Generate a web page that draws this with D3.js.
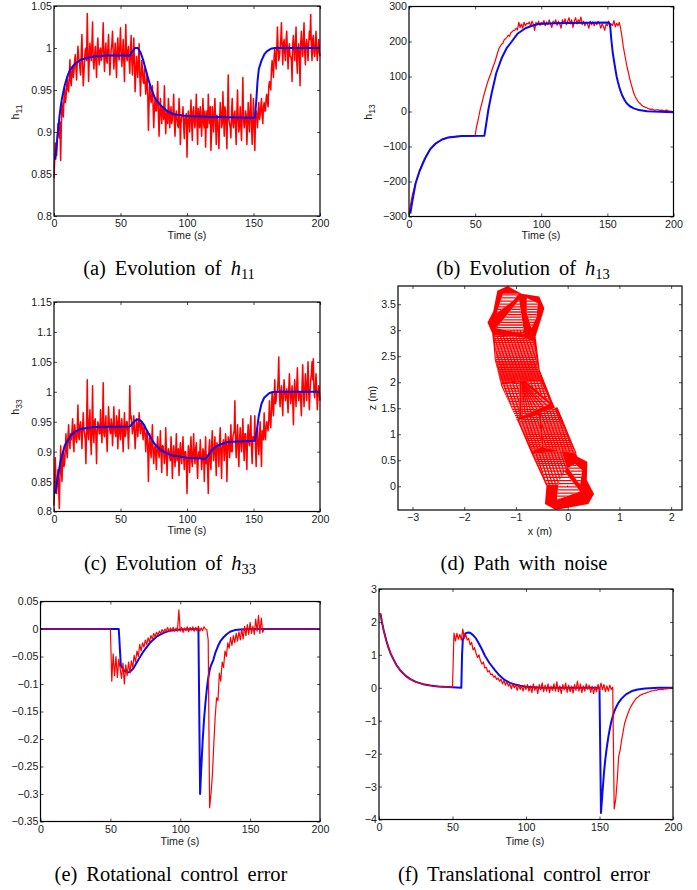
<!DOCTYPE html>
<html>
  <head>
    <title>Homography tracking plots</title>
    <script src="https://d3js.org/d3.v7.min.js"></script>
    <style>
      body { margin: 0; background: #fff; }
      svg { display: block; }
      .tick text, .axisLabel { font-family: "Liberation Sans", sans-serif; font-size: 10.7px; fill: #1a1a1a; }
      .caption { font-family: "Liberation Serif", serif; font-size: 20.5px; fill: #000; word-spacing: 3.8px; }
    </style>
  </head>

  <body>
    <svg width="697" height="890"></svg>

    <script type="text/javascript">
      // ---- plot (a) h11, red sampled every second plus the half seconds in between
      var h11Ticks = [0.8, 0.85, 0.9, 0.95, 1, 1.05];
      var h11Red = [
        0.845,0.887,0.872,0.91,0.893,0.866,0.935,0.918,0.952,0.94,
        0.963,0.948,0.986,0.955,0.978,0.972,0.992,0.962,1.002,0.984,
        0.968,1.016,0.955,0.986,1.0,1.041,0.96,1.006,0.985,1.031,
        0.975,1.002,0.965,1.012,0.98,1.0,0.988,1.03,0.972,1.006,
        0.982,1.016,0.968,0.998,1.02,0.975,1.006,0.965,1.012,0.986,
        1.024,0.978,1.01,0.96,1.028,0.985,1.002,0.97,1.015,0.968,
        1.012,0.948,0.99,0.965,1.005,0.943,0.985,0.96,0.975,0.945,
        0.97,0.902,0.955,0.935,0.955,0.905,0.94,0.925,0.96,0.895,
        0.94,0.91,0.93,0.955,0.898,0.925,0.94,0.905,0.93,0.915,
        0.945,0.895,0.925,0.908,0.94,0.885,0.918,0.93,0.892,0.91,
        0.87,0.925,0.9,0.938,0.89,0.93,0.905,0.945,0.885,0.92,
        0.93,0.895,0.94,0.905,0.882,0.925,0.945,0.91,0.878,0.93,
        0.9,0.94,0.885,0.915,0.88,0.935,0.905,0.948,0.895,0.925,
        0.88,0.968,0.91,0.893,0.94,0.905,0.925,0.885,0.95,0.9,
        0.93,0.89,0.965,0.905,0.925,0.885,0.935,0.9,0.945,0.885,
        0.94,0.878,0.925,0.905,0.935,0.92,0.94,0.91,0.935,0.925,
        0.945,0.93,0.96,0.95,0.985,0.965,1.0,0.975,1.025,0.985,
        1.0,1.03,0.98,1.01,0.985,1.02,0.975,1.005,0.99,0.96,
        1.015,0.985,1.025,0.97,1.005,0.955,1.02,0.99,1.03,0.98,
        1.01,0.985,1.02,1.04,0.985,1.015,0.99,1.02,0.985,1.01,
        0.99
      ];
      var h11RedMid = [
        0.866,0.878,0.895,0.9,0.912,0.905,0.925,0.94,0.935,0.955,
        0.95,0.968,0.96,0.975,0.965,0.985,0.975,0.985,0.99,0.975,
        0.995,0.98,0.97,0.998,0.985,1.0,0.985,0.995,1.005,0.985,
        0.99,0.985,1.0,0.99,0.998,0.985,1.005,0.99,0.995,0.985,
        1.0,0.99,0.985,1.005,0.995,0.99,0.985,1.0,0.99,1.003,
        0.995,0.99,0.985,1.0,0.99,0.997,0.985,0.995,0.985,0.99,
        0.98,0.97,0.978,0.985,0.97,0.965,0.975,0.958,0.96,0.955,
        0.945,0.935,0.945,0.94,0.93,0.93,0.925,0.942,0.92,0.925,
        0.92,0.93,0.915,0.925,0.92,0.91,0.928,0.92,0.91,0.925,
        0.91,0.92,0.915,0.905,0.925,0.91,0.92,0.905,0.918,0.922,
        0.905,0.915,0.92,0.91,0.925,0.912,0.92,0.91,0.928,0.905,
        0.915,0.92,0.91,0.925,0.915,0.905,0.92,0.93,0.9,0.915,
        0.925,0.91,0.92,0.9,0.915,0.925,0.91,0.92,0.93,0.905,
        0.925,0.915,0.905,0.925,0.91,0.92,0.905,0.925,0.915,0.91,
        0.905,0.925,0.915,0.91,0.92,0.905,0.918,0.925,0.91,0.915,
        0.905,0.915,0.92,0.925,0.915,0.93,0.92,0.93,0.925,0.94,
        0.935,0.955,0.955,0.975,0.975,0.99,0.985,1.0,1.0,0.99,
        1.01,1.0,1.005,0.995,1.01,0.995,1.0,0.99,0.985,1.005,
        1.0,1.005,0.985,1.0,0.99,1.005,1.0,1.01,0.995,1.005,
        1.0,1.005,1.01,1.0,1.01,0.995,1.005,0.995,1.0,0.995
      ];
      var h11BlueT = [1,2,3,4,5,6,8,10,12,15,20,25,30,40,57,59,61,63,65,67,70,73,76,80,85,90,100,120,151,152,153,154,156,158,160,163,166,200];
      var h11BlueV = [0.867,0.885,0.9,0.917,0.93,0.94,0.955,0.966,0.974,0.98,0.986,0.988,0.99,0.991,0.991,0.996,1.0,1.0,0.995,0.986,0.968,0.952,0.94,0.932,0.925,0.921,0.919,0.918,0.917,0.935,0.96,0.975,0.985,0.992,0.996,0.999,1,1];

      // ---- plot (b) h13
      var h13Ticks = [-300, -200, -100, 0, 100, 200, 300];
      var h13Red = [
        -295,-270,-248,-232,-218,-205,-193,-182,-170,-160,
        -150,-142,-135,-126,-120,-113,-108,-103,-99,-95,
        -92,-90,-86,-85,-82,-80,-78,-78,-75,-74,
        -74,-73,-72,-73,-71,-72,-70,-72,-70,-71,
        -70,-70,-71,-69,-71,-70,-69,-70,-70,-69,
        -68,-45,-28,-10,8,22,38,52,65,78,
        90,100,110,122,132,143,155,168,180,186,
        192,195,205,208,212,218,215,225,228,232,
        232,238,233,255,240,250,238,255,245,252,
        250,256,244,258,250,232,255,248,258,246,
        255,250,260,245,256,248,262,250,240,258,
        252,262,246,258,250,238,262,252,265,248,
        258,268,250,262,240,258,268,250,262,255,
        270,248,258,245,255,250,238,258,248,256,
        245,255,248,258,252,238,250,243,232,250,
        245,258,240,250,246,260,242,252,245,255,
        238,215,186,165,145,125,110,92,78,65,
        52,43,36,30,25,22,18,15,13,12,
        10,8,7,6,7,5,4,5,5,4,
        3,4,3,2,3,4,2,1,1,0,
        0
      ];
      var h13BlueT = [1,2,3,5,8,12,16,20,25,30,40,57,58,60,62.5,66,70,74,77.7,82,88,93,98,110,120,151,152,153,154,155,156,157,158,159,160,161,162,163,164,165,167,170,174,180,185,200];
      var h13BlueV = [-292,-268,-246,-205,-170,-135,-108,-92,-80,-74,-70,-69,-45,5,52,110,152,182,200,222,238,245,250,252,253,254,250,205,170,145,122,100,84,70,58,48,40,33,27,22,15,9,4,1,0,-2];

      // ---- plot (c) h33
      var h33Ticks = [0.8, 0.85, 0.9, 0.95, 1, 1.05, 1.1, 1.15];
      var h33Red = [
        0.81,0.89,0.83,0.87,0.805,0.91,0.85,0.9,0.88,0.93,
        0.89,0.945,0.905,0.92,0.955,0.9,0.935,0.915,0.978,0.92,
        0.95,0.905,0.965,0.93,0.88,1.02,0.92,0.97,0.895,1.01,
        0.915,0.955,0.88,0.95,0.93,0.97,0.915,1.015,0.925,0.96,
        0.9,0.975,0.935,0.955,0.91,0.975,0.93,0.96,0.905,0.97,
        0.92,0.955,0.9,0.965,0.93,0.95,0.905,1.01,0.96,0.93,
        0.96,0.905,0.955,0.925,0.965,0.93,0.95,0.92,0.945,0.9,
        0.935,0.85,0.93,0.89,0.945,0.88,0.91,0.87,0.925,0.89,
        0.935,0.865,0.91,0.88,0.94,0.86,0.905,0.89,0.925,0.855,
        0.91,0.875,0.93,0.89,0.86,0.915,0.88,0.925,0.87,0.9,
        0.83,0.91,0.865,0.925,0.875,0.93,0.88,0.915,0.855,0.9,
        0.92,0.87,0.905,0.85,0.925,0.895,0.83,0.92,0.87,0.935,
        0.885,0.925,0.86,0.91,0.875,0.94,0.855,0.915,0.885,0.93,
        0.85,0.925,0.89,0.945,0.9,0.93,0.985,0.89,0.945,0.875,
        0.94,0.9,0.955,0.885,0.93,0.87,0.945,0.91,0.96,0.88,
        0.925,0.96,0.875,0.94,0.895,0.95,0.875,0.93,0.965,0.92,
        0.95,0.935,0.985,0.94,1.0,0.96,1.02,0.985,1.0,1.058,
        0.975,1.01,0.96,1.02,0.985,1.005,0.965,1.03,0.98,1.01,
        0.945,1.02,0.975,1.04,0.985,1.0,0.96,1.045,0.975,1.03,
        0.985,1.05,0.97,1.02,1.05,1.055,0.99,1.03,0.97,1.01,
        0.985
      ];
      var h33RedMid = [
        0.85,0.845,0.855,0.84,0.86,0.87,0.885,0.875,0.905,0.9,
        0.925,0.915,0.93,0.935,0.915,0.945,0.92,0.94,0.925,0.945,
        0.93,0.94,0.935,0.92,0.945,0.93,0.95,0.925,0.94,0.93,
        0.95,0.925,0.935,0.945,0.93,0.94,0.95,0.93,0.945,0.925,
        0.94,0.95,0.93,0.945,0.935,0.94,0.925,0.95,0.94,0.93,
        0.945,0.93,0.94,0.925,0.95,0.935,0.94,0.955,0.945,0.94,
        0.935,0.93,0.945,0.94,0.95,0.945,0.935,0.94,0.925,0.93,
        0.905,0.91,0.905,0.92,0.9,0.905,0.895,0.91,0.9,0.905,
        0.895,0.91,0.9,0.89,0.905,0.895,0.9,0.885,0.9,0.89,
        0.895,0.9,0.885,0.905,0.89,0.895,0.905,0.89,0.9,0.885,
        0.88,0.895,0.905,0.885,0.9,0.89,0.905,0.88,0.895,0.89,
        0.895,0.885,0.9,0.89,0.88,0.87,0.905,0.885,0.91,0.9,
        0.905,0.89,0.915,0.9,0.92,0.895,0.905,0.92,0.9,0.915,
        0.9,0.92,0.91,0.9,0.925,0.935,0.915,0.925,0.905,0.92,
        0.915,0.925,0.91,0.93,0.9,0.925,0.915,0.94,0.905,0.925,
        0.92,0.905,0.93,0.91,0.925,0.91,0.935,0.92,0.93,0.94,
        0.94,0.955,0.95,0.97,0.975,0.99,0.98,1.0,1.02,0.995,
        1.0,0.985,1.0,1.0,0.995,0.985,1.005,1.0,0.995,0.985,
        1.0,0.995,1.01,1.0,1.0,0.985,1.01,1.005,1.0,1.01,
        1.015,1.0,1.0,1.03,1.02,1.0,1.01,1.0,0.99,1.0
      ];
      var h33BlueT = [1,3,5,8,12,15,20,30,57,59,61,63,65,67,70,73,76,80,85,90,100,114,116,118,121,125,130,151,152.5,154,156,158,162,166,200];
      var h33BlueV = [0.83,0.86,0.885,0.91,0.925,0.932,0.938,0.941,0.942,0.947,0.952,0.954,0.952,0.947,0.935,0.922,0.912,0.903,0.897,0.893,0.89,0.888,0.894,0.901,0.907,0.912,0.916,0.918,0.935,0.96,0.98,0.99,0.998,1,1];

      // ---- plot (d) path, all in metres
      var pathTicksX = [-3, -2, -1, 0, 1, 2];
      var pathTicksZ = [0, 0.5, 1, 1.5, 2, 2.5, 3, 3.5];
      var pathOutline = [[-1.16,3.85],[-1.36,3.76],[-1.44,3.36],[-1.55,3.15],[-1.46,2.94],[-1.43,2.69],[-1.41,2.43],[-1.28,1.92],[-0.95,1.21],[-0.7,0.63],[-0.41,0],[-0.44,-0.34],[-0.23,-0.455],[0.4,-0.34],[0.51,-0.15],[0.37,0.12],[0.38,0.47],[0.19,0.57],[-0.12,1.21],[-0.31,1.66],[-0.54,2.24],[-0.62,2.88],[-0.45,3.42],[-0.55,3.65],[-0.89,3.7]];
      // gaps in the wire mesh that only have rows running across
      var pathGapsRows = [
        [[-1.25,3.7],[-0.95,3.7],[-1.05,3.57],[-1.37,3.33]],
        [[-0.79,3.62],[-0.58,3.52],[-0.6,3.26],[-0.7,3.04],[-0.79,3.33]],
        [[-0.08,0.31],[0.24,-0.1],[-0.21,-0.26],[-0.18,0.03]],
        [[0.14,0.43],[0.28,0.31],[0.24,0.03],[0.01,0.35]]
      ];
      // gaps with rows and columns crossing
      var pathGapsGrid = [
        [[-0.94,3.58],[-0.84,2.93],[-1.38,3.04]],
        [[-1.41,2.9],[-0.85,2.86],[-0.66,2.78],[-0.58,2.3],[-0.56,2.22],[-1.35,2.22],[-1.39,2.43]],
        [[-1.34,2.19],[-0.56,2.19],[-0.52,2.05],[-0.93,2.04],[-1.3,2.0]],
        [[-0.8,2.02],[-0.52,2.02],[-0.34,1.62]],
        [[-1.27,1.95],[-0.93,2.0],[-0.94,1.3],[-0.98,1.27]],
        [[-0.94,1.27],[-0.56,1.37],[-0.5,0.76],[-0.68,0.68]],
        [[-0.52,1.42],[-0.2,1.52],[0.17,0.63],[-0.46,0.74]],
        [[-0.66,0.62],[-0.12,0.68],[-0.02,0.36],[-0.2,0.03],[-0.39,0.03]]
      ];
      // open triangle in the middle with lines fanning out of its apex
      var pathFanGap = [[-0.89,2.01],[-0.36,1.58],[-0.9,1.34]];
      var pathFanApex = [-0.89, 2.01];
      var pathFanEnds = [[-0.34,1.6],[-0.4,1.55],[-0.46,1.52],[-0.52,1.49],[-0.58,1.46],[-0.64,1.43],[-0.7,1.41],[-0.76,1.39],[-0.82,1.37],[-0.88,1.35]];
      var pathRowsZ = [
        -0.25,-0.19,-0.13,-0.07,-0.01,0.05,0.11,0.17,0.23,0.29,0.35,0.4,
        0.44,0.48,0.52,0.56,0.6,0.64,0.68,0.72,0.76,0.8,0.84,0.88,0.92,0.96,1.0,1.04,1.08,1.12,1.16,1.2,1.24,1.28,1.32,1.36,1.4,1.44,1.48,
        1.53,1.58,1.63,1.68,1.73,1.78,1.83,1.88,1.93,1.98,2.02,2.04,2.06,2.08,2.1,2.12,2.14,2.16,2.18,2.2,2.22,2.25,2.28,2.31,2.34,2.37,2.4,2.44,2.48,2.52,2.56,2.6,2.64,2.68,2.72,2.76,2.8,2.84,2.88,2.92,2.96,
        3.0,3.05,3.1,3.15,3.2,3.25,3.3,3.35,3.4,3.45,3.5,3.56,3.62,3.68
      ];
      // columns, given as x at z = 0 and the same line's x at z = 3
      var pathColsBottom = [-1.0,-0.94,-0.88,-0.82,-0.76,-0.7,-0.64,-0.58,-0.52,-0.46,-0.4,-0.34,-0.28,-0.22,-0.16,-0.1,-0.04,0.02,0.08,0.14,0.2,0.26,0.32,0.38,0.44,0.5,0.56,0.62];
      var pathColsTop = [-2.0,-1.94,-1.88,-1.82,-1.76,-1.7,-1.64,-1.58,-1.52,-1.46,-1.4,-1.34,-1.28,-1.22,-1.16,-1.1,-1.04,-0.98,-0.92,-0.86,-0.8,-0.74,-0.68,-0.62,-0.56,-0.5,-0.44,-0.38];
      var pathStart = [0, 0];

      // ---- plot (e) rotational error
      var rotTicks = [-0.35, -0.3, -0.25, -0.2, -0.15, -0.1, -0.05, 0, 0.05];
      var rotRedT = d3.range(50, 161);
      var rotRed = [
        0,-0.095,-0.045,-0.085,-0.05,-0.088,-0.055,-0.072,-0.09,-0.062,
        -0.1,-0.065,-0.085,-0.06,-0.08,-0.058,-0.07,-0.048,-0.06,-0.04,
        -0.05,-0.028,-0.04,-0.025,-0.033,-0.02,-0.028,-0.016,-0.024,-0.012,
        -0.018,-0.008,-0.014,-0.006,-0.011,-0.004,-0.008,-0.001,-0.006,0,
        -0.004,0.003,-0.005,0.002,-0.003,0.003,-0.004,0.002,-0.004,0.035,
        -0.004,0.003,-0.006,0.002,-0.003,0.004,-0.005,0.003,-0.002,0.004,
        -0.004,0.003,-0.003,0.005,-0.004,0.002,-0.003,0.004,0,-0.001,
        -0.02,-0.325,-0.3,-0.265,-0.21,-0.16,-0.125,-0.13,-0.08,-0.095,
        -0.06,-0.07,-0.04,-0.05,-0.025,-0.035,-0.015,-0.03,-0.012,-0.025,
        -0.008,-0.022,-0.005,-0.02,0,-0.018,0.005,-0.012,0.008,-0.01,
        0.012,-0.008,0.005,-0.01,0.018,-0.004,0.025,-0.008,0.02,-0.006,
        0
      ];
      var rotBlueT = [0,56,57.5,60,62,64,66.5,70,73.6,78,83,88,92.7,100,113,114.2,115,116,117,118,119,120,121,122,123.7,125,127,129,131,133,135.6,139,143,150,200];
      var rotBlueV = [0,0,-0.067,-0.076,-0.079,-0.078,-0.0715,-0.056,-0.041,-0.026,-0.014,-0.007,-0.003,-0.001,0,-0.3,-0.255,-0.205,-0.165,-0.135,-0.11,-0.09,-0.075,-0.066,-0.056,-0.044,-0.031,-0.021,-0.015,-0.01,-0.005,-0.002,-0.001,0,0];
      var rotBothT = [[0, 50], [160, 200]];
      var rotBothV = [[0, 0], [0, 0]];

      // ---- plot (f) translational error
      var transTicks = [-4, -3, -2, -1, 0, 1, 2, 3];
      var transRed = [
        2.25,2.25,1.98,1.78,1.6,1.43,1.28,1.15,1.04,0.94,
        0.85,0.75,0.68,0.62,0.56,0.5,0.45,0.41,0.37,0.34,
        0.3,0.27,0.25,0.22,0.2,0.18,0.17,0.15,0.14,0.12,
        0.11,0.1,0.09,0.085,0.075,0.07,0.06,0.055,0.05,0.045,
        0.04,0.04,0.035,0.03,0.03,0.025,0.025,0.02,0.02,0.02,
        0.02,1.66,1.42,1.65,1.48,1.62,1.45,1.78,1.5,1.62,
        1.45,1.5,1.3,1.38,1.15,1.22,1.05,0.92,1.0,0.82,
        0.72,0.78,0.6,0.62,0.48,0.52,0.4,0.42,0.32,0.36,
        0.25,0.3,0.2,0.26,0.12,0.22,0.08,0.18,0.05,0.12,
        -0.03,0.12,0,0.08,-0.08,0.1,-0.05,0.06,-0.1,0.08,
        -0.05,0.1,-0.1,0.06,-0.15,0.12,-0.08,0.05,-0.18,0.1,
        -0.06,0.15,-0.12,0.08,-0.1,0.12,-0.15,0.05,-0.08,0.12,
        -0.1,0.18,-0.12,0.06,-0.18,0.1,-0.06,0.14,-0.14,0.08,
        -0.12,0.05,-0.16,0.1,-0.08,0.2,-0.1,0.12,-0.15,0.06,
        -0.1,0.12,-0.05,0.08,-0.14,0.05,-0.18,0.03,-0.12,0.1,
        -0.08,0.14,-0.06,0.1,-0.12,0.06,-0.1,0.08,-0.05,0.02,
        -3.68,-3.4,-2.85,-2.1,-1.9,-1.6,-1.35,-1.1,-0.95,-0.82,
        -0.7,-0.6,-0.52,-0.45,-0.38,-0.32,-0.29,-0.25,-0.22,-0.2,
        -0.18,-0.17,-0.15,-0.13,-0.12,-0.1,-0.09,-0.09,-0.07,-0.07,
        -0.05,-0.06,-0.04,-0.06,-0.03,-0.04,-0.02,-0.03,-0.01,-0.02,
        -0.01
      ];
      var transBlueT = [1,2,3,4,5,6,7,8,10,12,15,18,21,25,30,35,40,50,56,56.5,57,58,59,60.7,62,64,66,68,70,72,75,79,82,85.7,89,92.5,96,100,110,149.5,150,151,152,153,154,155,156,157,158,159,160,161,162,163,165,168,172,176,181,190,200];
      var transBlueV = [2.25,2.0,1.78,1.6,1.43,1.28,1.15,1.03,0.85,0.68,0.5,0.37,0.27,0.18,0.11,0.07,0.04,0.015,0,1.0,1.45,1.6,1.66,1.68,1.67,1.6,1.5,1.34,1.17,0.98,0.76,0.53,0.37,0.23,0.15,0.1,0.06,0.03,0,0,-0.02,-3.8,-3.2,-2.6,-2.15,-1.8,-1.5,-1.25,-1.03,-0.87,-0.72,-0.62,-0.53,-0.45,-0.33,-0.2,-0.1,-0.05,-0.02,0,0];

      var timeTicks = [0, 50, 100, 150, 200];
      var sampleT = d3.range(0, 201);
      var halfT = d3.range(0, 200.5, 0.5);

      var RED = "#ff0000";
      var BLUE = "#0a0aef";
      var svg = d3.select("svg");

      function fmt(d) {
        return String(d).replace("-", "\u2212");
      }

      // whole second samples with the half second ones slotted between them
      function interleave(whole, mid) {
        var out = [];
        whole.forEach(function (v, i) {
          out.push(v);
          if (i < mid.length) out.push(mid[i]);
        });
        return out;
      }

      // frame, labelled axes and the mirrored ticks on the far sides
      function addFrame(box, xScale, yScale, xTicks, yTicks) {
        var g = svg.append("g");
        var bottom = d3.axisBottom(xScale).tickValues(xTicks).tickSizeInner(-3).tickSizeOuter(0).tickPadding(3.5).tickFormat(fmt);
        var left = d3.axisLeft(yScale).tickValues(yTicks).tickSizeInner(-3).tickSizeOuter(0).tickPadding(2).tickFormat(fmt);
        var top = d3.axisTop(xScale).tickValues(xTicks).tickSizeInner(-3).tickSizeOuter(0).tickFormat("");
        var right = d3.axisRight(yScale).tickValues(yTicks).tickSizeInner(-3).tickSizeOuter(0).tickFormat("");
        g.append("g").attr("transform", "translate(0," + box.bottom + ")").call(bottom);
        g.append("g").attr("transform", "translate(" + box.left + ",0)").call(left);
        g.append("g").attr("transform", "translate(0," + box.top + ")").call(top);
        g.append("g").attr("transform", "translate(" + box.right + ",0)").call(right);
        g.selectAll(".domain").remove();
        g.selectAll(".tick line").attr("stroke", "#222").attr("stroke-width", 0.8);
        g.append("rect")
          .attr("x", box.left)
          .attr("y", box.top)
          .attr("width", box.right - box.left)
          .attr("height", box.bottom - box.top)
          .attr("fill", "none")
          .attr("stroke", "#000")
          .attr("stroke-width", 1.2);
      }

      function addAxisLabel(text, sub, x, y, rotated) {
        var t = svg.append("text")
          .attr("class", "axisLabel")
          .attr("text-anchor", "middle")
          .attr("transform", "translate(" + x + "," + y + ")" + (rotated ? " rotate(-90)" : ""));
        t.append("tspan").text(text);
        if (sub) {
          t.append("tspan").attr("dy", 2.5).attr("font-size", 8.5).text(sub);
        }
      }

      function addCaption(prefix, italic, sub, x, y) {
        var t = svg.append("text").attr("class", "caption").attr("text-anchor", "middle").attr("x", x).attr("y", y);
        t.append("tspan").attr("xml:space", "preserve").text(prefix);
        if (italic) {
          t.append("tspan").attr("font-style", "italic").text(italic);
          t.append("tspan").attr("dy", 3.5).attr("font-size", 14.5).text(sub);
        }
      }

      function addLine(xScale, yScale, ts, vs, color, width) {
        var line = d3.line()
          .x(function (d) { return xScale(d[0]); })
          .y(function (d) { return yScale(d[1]); });
        svg.append("path")
          .attr("d", line(d3.zip(ts, vs)))
          .attr("fill", "none")
          .attr("stroke", color)
          .attr("stroke-width", width)
          .attr("stroke-linejoin", "round");
      }

      function timePanel(o) {
        var x = d3.scaleLinear().domain([0, 200]).range([o.box.left, o.box.right]);
        var y = d3.scaleLinear().domain(d3.extent(o.yTicks)).range([o.box.bottom, o.box.top]);
        return { x: x, y: y };
      }

      // (a)
      var boxA = { left: 54, right: 320, top: 6, bottom: 216 };
      var a = timePanel({ box: boxA, yTicks: h11Ticks });
      addLine(a.x, a.y, halfT, interleave(h11Red, h11RedMid), RED, 1.5);
      addLine(a.x, a.y, h11BlueT, h11BlueV, BLUE, 2);
      addFrame(boxA, a.x, a.y, timeTicks, h11Ticks);
      addAxisLabel("Time (s)", null, 187, 239);
      addAxisLabel("h", "11", 19, 112, true);
      addCaption("(a) Evolution of ", "h", "11", 169, 275);

      // (b)
      var boxB = { left: 409, right: 673.5, top: 6.5, bottom: 216.5 };
      var b = timePanel({ box: boxB, yTicks: h13Ticks });
      addLine(b.x, b.y, sampleT, h13Red, RED, 1.2);
      addLine(b.x, b.y, h13BlueT, h13BlueV, BLUE, 2);
      addFrame(boxB, b.x, b.y, timeTicks, h13Ticks);
      addAxisLabel("Time (s)", null, 541, 239);
      addAxisLabel("h", "13", 372, 112, true);
      addCaption("(b) Evolution of ", "h", "13", 523, 275);

      // (c)
      var boxC = { left: 54, right: 320, top: 302, bottom: 511.5 };
      var c = timePanel({ box: boxC, yTicks: h33Ticks });
      addLine(c.x, c.y, halfT, interleave(h33Red, h33RedMid), RED, 1.5);
      addLine(c.x, c.y, h33BlueT, h33BlueV, BLUE, 2);
      addFrame(boxC, c.x, c.y, timeTicks, h33Ticks);
      addAxisLabel("Time (s)", null, 187, 534);
      addAxisLabel("h", "33", 19, 407, true);
      addCaption("(c) Evolution of ", "h", "33", 170, 570);

      // (d)
      var boxD = { left: 398, right: 682, top: 286, bottom: 510 };
      var dx = d3.scaleLinear().domain([-3.28, 2.21]).range([boxD.left, boxD.right]);
      var dz = d3.scaleLinear().domain([-0.456, 3.85]).range([boxD.bottom, boxD.top]);

      function ringPath(ring) {
        return "M" + ring.map(function (p) { return dx(p[0]) + "," + dz(p[1]); }).join("L") + "Z";
      }

      var gapRings = pathGapsRows.concat(pathGapsGrid, [pathFanGap]);
      var mesh = svg.append("g").attr("stroke", RED).attr("stroke-width", 1.3);

      svg.append("clipPath").attr("id", "clipRows").append("path")
        .attr("d", gapRings.map(ringPath).join(""));
      svg.append("clipPath").attr("id", "clipGrid").append("path")
        .attr("d", pathGapsGrid.map(ringPath).join(""));
      svg.append("clipPath").attr("id", "clipFan").append("path")
        .attr("d", ringPath(pathFanGap));

      mesh.append("g").attr("clip-path", "url(#clipRows)")
        .selectAll("line").data(pathRowsZ).enter().append("line")
        .attr("x1", dx(-2)).attr("x2", dx(1))
        .attr("y1", function (d) { return dz(d); })
        .attr("y2", function (d) { return dz(d); });

      mesh.append("g").attr("clip-path", "url(#clipGrid)")
        .selectAll("line").data(d3.zip(pathColsBottom, pathColsTop)).enter().append("line")
        .attr("x1", function (d) { return dx(d[0]); })
        .attr("x2", function (d) { return dx(d[1]); })
        .attr("y1", dz(0))
        .attr("y2", dz(3));

      mesh.append("g").attr("clip-path", "url(#clipFan)")
        .selectAll("line").data(pathFanEnds).enter().append("line")
        .attr("x1", dx(pathFanApex[0])).attr("y1", dz(pathFanApex[1]))
        .attr("x2", function (d) { return dx(d[0]); })
        .attr("y2", function (d) { return dz(d[1]); });

      svg.append("path")
        .attr("d", ringPath(pathOutline) + gapRings.map(ringPath).join(""))
        .attr("fill", RED)
        .attr("fill-rule", "evenodd")
        .attr("stroke", "none");

      svg.append("circle").attr("cx", dx(pathStart[0])).attr("cy", dz(pathStart[1])).attr("r", 0.7).attr("fill", BLUE);

      addFrame(boxD, dx, dz, pathTicksX, pathTicksZ);
      addAxisLabel("x (m)", null, 540, 535);
      addAxisLabel("z (m)", null, 376, 398, true);
      addCaption("(d) Path with noise", null, null, 524, 570);

      // (e)
      var boxE = { left: 40.5, right: 320, top: 601.5, bottom: 821.5 };
      var e = timePanel({ box: boxE, yTicks: rotTicks });
      addLine(e.x, e.y, rotBlueT, rotBlueV, BLUE, 2);
      addLine(e.x, e.y, rotRedT, rotRed, RED, 1.2);
      rotBothT.forEach(function (ts, i) {
        addLine(e.x, e.y, ts, rotBothV[i], "#7f0a7f", 2);
      });
      addFrame(boxE, e.x, e.y, timeTicks, rotTicks);
      addAxisLabel("Time (s)", null, 180, 845);
      addCaption("(e) Rotational control error", null, null, 171, 881);

      // (f)
      var boxF = { left: 379, right: 673, top: 589, bottom: 819.5 };
      var f = timePanel({ box: boxF, yTicks: transTicks });
      addLine(f.x, f.y, transBlueT, transBlueV, BLUE, 2);
      addLine(f.x, f.y, sampleT, transRed, RED, 1.2);
      addFrame(boxF, f.x, f.y, timeTicks, transTicks);
      addAxisLabel("Time (s)", null, 525, 845);
      addCaption("(f) Translational control error", null, null, 524, 881);
    </script>
  </body>
</html>
